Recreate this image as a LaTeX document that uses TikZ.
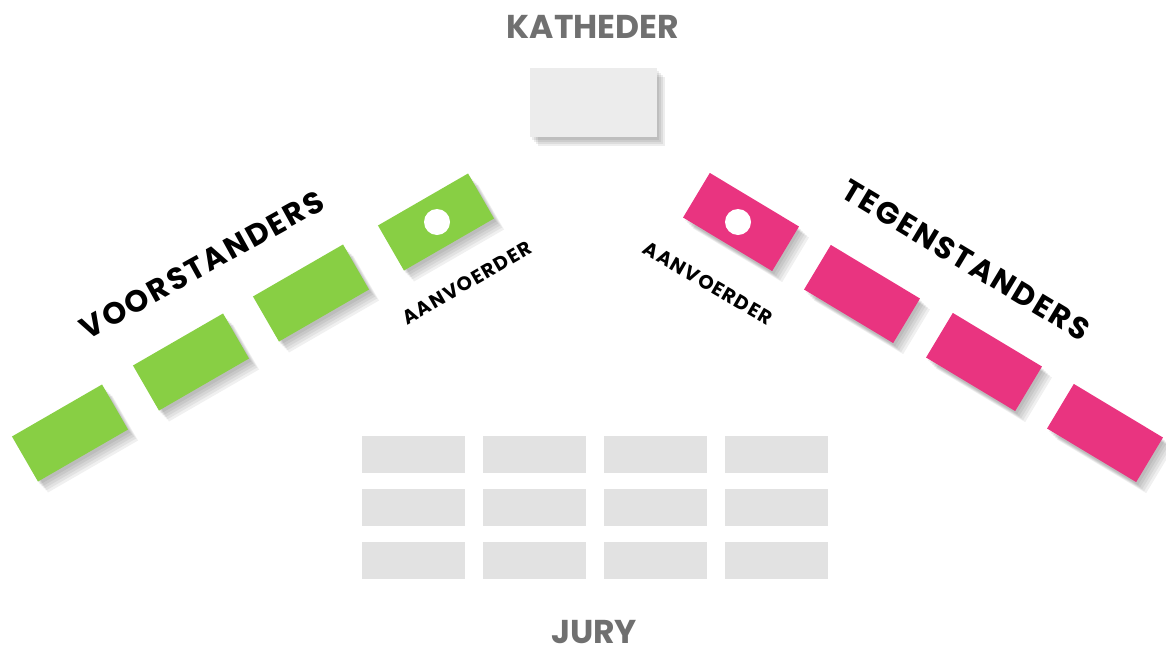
\documentclass[tikz,border=0pt]{standalone}
\usepackage{fontspec}
\setmainfont{Poppins}
\newfontfamily\debatfont{Poppins}[LetterSpace=7]
\definecolor{voorgreen}{RGB}{136,207,68}
\definecolor{tegenpink}{RGB}{233,52,128}
\definecolor{kathgray}{RGB}{236,236,236}
\definecolor{jurygray}{RGB}{226,226,226}
\definecolor{titlegray}{RGB}{112,112,112}
\begin{document}
\begin{tikzpicture}[
  x=1pt,
  y=-1pt,
  desk/.style={
    minimum width=104pt,
    minimum height=52pt,
    inner sep=0pt,
    draw=none
  },
  desk shadow/.style={
    desk,
    fill=black,
    opacity=.06
  },
  jury desk/.style={
    minimum width=103pt,
    minimum height=37pt,
    inner sep=0pt,
    fill=jurygray
  },
  title/.style={
    font=\bfseries\fontsize{33}{33}\selectfont,
    text=titlegray,
    inner sep=0pt
  },
  side label/.style={
    font=\debatfont\bfseries\fontsize{30.5}{30.5}\selectfont,
    inner sep=0pt
  },
  captain label/.style={
    font=\debatfont\bfseries\fontsize{19.5}{19.5}\selectfont,
    inner sep=0pt
  },
]
\useasboundingbox (0,0) rectangle (1166,648);

% katheder
\foreach \s in {2,4,6,8}
  \node[desk shadow, minimum width=127pt, minimum height=69pt, opacity=.07]
    at (593.5+\s,102.5+\s+1) {};
\node[desk, minimum width=127pt, minimum height=69pt, fill=kathgray] (katheder) at (593.5,102.5) {};
\node[title] (kathedertitle) at (593,27) {KATHEDER};

% voorstanders
\foreach \x/\y [count=\i] in {70/433, 191/362, 311/293, 436/222} {
  \foreach \s in {2,4,6,8,10}
    \node[desk shadow, rotate=30] at (\x+\s,\y+\s+1) {};
  \node[desk, rotate=30, fill=voorgreen] (voor\i) at (\x,\y) {};
}
\fill[white] (voor4.center) ++(1,0) circle (13);
\node[side label, rotate=29] (voorlabel) at (202,265) {VOORSTANDERS};
\node[captain label, rotate=30] (voorcaptain) at (467,283) {AANVOERDER};

% tegenstanders
\foreach \x/\y [count=\i] in {741/222, 862/294, 984/362, 1105/433} {
  \foreach \s in {2,4,6,8,10}
    \node[desk shadow, rotate=-31] at (\x+\s,\y+\s+1) {};
  \node[desk, rotate=-31, fill=tegenpink] (tegen\i) at (\x,\y) {};
}
\fill[white] (tegen1.center) ++(-3,0) circle (13);
\node[side label, rotate=-31] (tegenlabel) at (966,260) {TEGENSTANDERS};
\node[captain label, rotate=-30] (tegencaptain) at (708,283) {AANVOERDER};

% jury
\foreach \c in {0,...,3}
  \foreach \r in {0,...,2}
    \node[jury desk] (jury\c\r) at (413.5+121*\c,454+53*\r) {};
\node[title] (jurytitle) at (594,632) {JURY};
\end{tikzpicture}
\end{document}
